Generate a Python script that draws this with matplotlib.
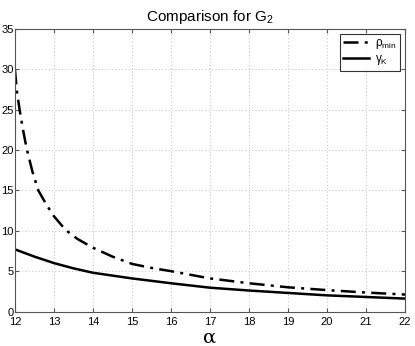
import numpy as np
import matplotlib.pyplot as plt

plt.rcParams['font.family'] = ['Liberation Sans', 'DejaVu Sans']
plt.rcParams['mathtext.default'] = 'regular'

# ---------- data ----------
alpha_rho = [12.0, 12.05, 12.12, 12.2, 12.3, 12.45, 12.6, 12.8, 13.0, 13.3, 13.6,
             14.0, 14.5, 15.0, 15.5, 16.0, 17.0, 18.0, 19.0, 20.0, 21.0, 22.0]
rho_min = [30.0, 27.3, 25.0, 22.7, 20.2, 17.3, 15.0, 13.3, 11.8, 10.1, 9.0,
           7.9, 6.8, 5.9, 5.4, 5.0, 4.1, 3.5, 3.0, 2.65, 2.35, 2.1]

alpha_gam = [12.0, 12.5, 13.0, 13.5, 14.0, 15.0, 16.0, 17.0, 18.0, 19.0, 20.0, 21.0, 22.0]
gamma_K = [7.7, 6.8, 6.0, 5.35, 4.8, 4.1, 3.5, 2.95, 2.6, 2.3, 2.0, 1.8, 1.6]

xticks = list(range(12, 23))
yticks = list(range(0, 36, 5))

# ---------- plot ----------
fig = plt.figure(figsize=(4.15, 3.46), dpi=100)
ax = fig.add_axes([0.036, 0.0997, 0.94, 0.8163])

ax.plot(alpha_rho, rho_min, color='black', lw=1.8, linestyle=(0, (6, 2.5, 1.2, 2.5)),
        label=r'$\rho_{min}$')
ax.plot(alpha_gam, gamma_K, color='black', lw=1.8, linestyle='-', label=r'$\gamma_K$')

ax.set_xlim(12, 22)
ax.set_ylim(0, 35)
ax.set_xticks(xticks)
ax.set_yticks(yticks)
ax.tick_params(direction='in', top=True, right=True, labelsize=8, length=3,
               color='#555555')
ax.tick_params(axis='x', pad=4)
ax.tick_params(axis='y', pad=1)
for s in ax.spines.values():
    s.set_color('#555555')
    s.set_linewidth(0.8)
ax.grid(True, linestyle=(0, (1, 3)), color='#aaaaaa', linewidth=0.6)

ax.set_title('Comparison for G$_2$', fontsize=11, pad=6)
ax.set_xlabel('α', fontsize=14, family='DejaVu Serif', labelpad=1)

leg = ax.legend(loc='upper right', fontsize=8.5, frameon=True, fancybox=False,
                handlelength=2.2, borderpad=0.3, labelspacing=0.15,
                handletextpad=0.5, borderaxespad=0.4)
leg.get_frame().set_edgecolor('black')
leg.get_frame().set_linewidth(0.8)

fig.savefig('out.png', dpi=100)
